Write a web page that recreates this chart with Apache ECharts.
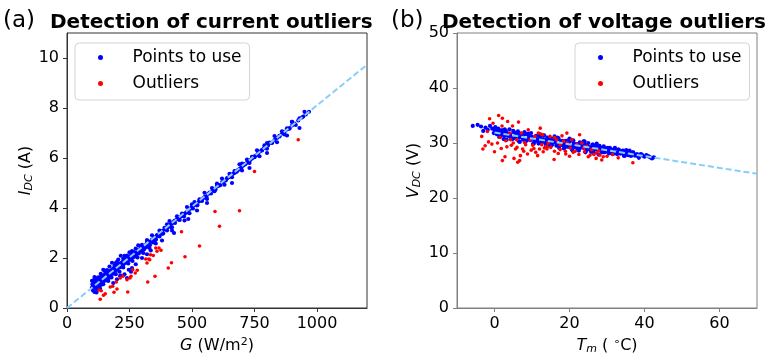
<!DOCTYPE html>
<html><head><meta charset="utf-8">
<script src="https://cdn.jsdelivr.net/npm/echarts@6/dist/echarts.min.js"></script>
<style>html,body{margin:0;padding:0;background:#fff}#c{width:775px;height:360px}</style>
</head><body><div id="c"></div>
<script>
// ---- Panel (a): current outliers ----
const gTicks = [0, 250, 500, 750, 1000];
const iTicks = [0, 2, 4, 6, 8, 10];
const gUse = [100,102,104,105,107,108,110,111,113,115,116,118,120,121,123,125,127,128,130,132,134,136,138,140,142,144,146,148,150,152,154,156,158,160,162,164,166,168,170,172,174,176,178,180,183,185,187,190,192,195,197,200,202,205,207,210,212,215,218,220,223,225,228,230,233,236,238,241,244,247,250,253,256,259,262,265,268,271,274,277,280,284,287,290,294,297,300,304,308,312,316,320,324,328,332,336,340,344,348,352,356,360,365,370,375,380,385,390,395,400,405,410,415,420,426,432,438,444,450,456,462,468,474,480,486,492,498,504,510,516,522,528,534,540,546,552,558,564,570,576,582,588,594,600,607,614,621,628,635,642,649,656,663,670,677,684,691,698,705,712,719,726,733,740,748,756,764,772,780,788,796,804,812,820,830,840,850,860,870,880,890,900,910,925,940,955,968,
185,200,215,230,240,260,275,300,320,335,380,420,470,520,560,660,730,800,880,930,
150,200,260,320,400,500,600,700,800,900,950,247,256,212,485,428,118,132,145,165,178,195,210,225,245,262,282,305,330,355,
300,310,320,330,340,350,360,370,380,390,400,410,420,430,440,450,460,470,480,490,500,510,520,530,540,550,560,570,580,590,600,610,620,630,640,650,660,670,680,690,700,710,720,730,740,750,760,770,780,790,800,810,820,830,840,850,860,870,880,890,900,915,930,945,
100,105,110,115,120,125,130,135,140,145,150,155,160,165,170,175,180,185,190,195,200,205,210,215,220,225,230,235,240,245,250,255,260,265,270,275,280,285,290,295];
const iUse = [0.82,0.95,0.70,1.05,0.88,1.12,0.64,0.93,1.02,0.80,1.15,0.96,1.08,0.74,1.20,0.98,1.10,0.86,1.22,1.04,1.14,0.92,1.28,1.12,1.20,1.00,1.30,1.16,1.24,1.36,1.10,1.28,1.38,1.22,1.32,1.44,1.18,1.40,1.34,1.48,1.28,1.42,1.52,1.36,1.50,1.58,1.40,1.55,1.64,1.48,1.60,1.70,1.56,1.66,1.76,1.62,1.72,1.80,1.66,1.78,1.86,1.72,1.84,1.92,1.80,1.90,1.98,1.86,1.96,2.04,1.92,2.02,2.10,1.98,2.08,2.16,2.04,2.14,2.22,2.10,2.22,2.30,2.18,2.30,2.38,2.26,2.38,2.46,2.34,2.48,2.54,2.44,2.58,2.64,2.52,2.68,2.74,2.62,2.78,2.84,2.74,2.88,2.94,2.86,3.02,3.08,2.98,3.14,3.20,3.10,3.26,3.32,3.24,3.38,3.44,3.40,3.54,3.58,3.52,3.66,3.70,3.66,3.80,3.86,3.82,3.96,4.02,3.98,4.12,4.16,4.12,4.26,4.32,4.28,4.40,4.46,4.44,4.56,4.60,4.58,4.70,4.76,4.74,4.86,4.90,4.92,5.04,5.08,5.10,5.20,5.24,5.28,5.36,5.40,5.44,5.52,5.58,5.62,5.70,5.74,5.80,5.88,5.92,5.98,6.06,6.10,6.18,6.26,6.30,6.40,6.44,6.50,6.60,6.62,6.72,6.80,6.86,6.98,7.04,7.14,7.20,7.30,7.38,7.50,7.62,7.74,7.85,
1.00,1.15,1.30,1.35,1.20,1.60,1.75,2.00,2.15,2.30,2.70,3.10,3.50,3.90,4.20,5.00,5.60,6.20,6.90,7.20,
1.50,1.85,2.28,2.72,3.35,4.15,4.98,5.78,6.60,7.45,7.85,1.53,1.45,1.28,3.56,3.00,0.62,0.78,0.95,1.08,1.22,1.35,1.45,1.62,1.78,1.88,2.02,2.20,2.40,2.58,
2.53,2.39,2.65,2.63,2.91,2.66,2.92,3.10,2.96,3.21,3.19,3.48,3.23,3.49,3.67,3.53,3.78,3.76,4.04,3.79,4.06,4.24,4.10,4.35,4.33,4.61,4.36,4.62,4.80,4.67,4.92,4.90,5.18,4.93,5.19,5.37,5.23,5.48,5.47,5.75,5.50,5.76,5.94,5.80,6.05,6.03,6.31,6.07,6.33,6.51,6.37,6.62,6.60,6.88,6.63,6.89,7.07,6.94,7.19,7.17,7.45,7.32,7.59,7.66,
1.09,0.85,1.24,0.81,1.12,1.23,0.99,1.37,1.14,1.53,1.10,1.41,1.52,1.28,1.66,1.42,1.81,1.38,1.69,1.80,1.56,1.94,1.70,2.09,1.66,1.98,2.09,1.85,2.10,1.94,2.23,1.97,2.16,2.25,2.16,2.38,2.22,2.51,2.25,2.44];
const gOut = [925,750,592,690,610,458,530,472,418,405,352,323,243,368,376,360,334,327,320,345,331,355,315,281,273,263,252,240,256,224,213,197,200,173,183,146,153,133,188,128,137];
const iOut = [6.73,5.46,3.86,3.89,3.27,3.05,2.48,2.05,1.81,1.60,1.27,1.04,0.64,2.40,2.31,2.27,2.13,1.96,1.80,2.10,1.93,2.40,1.96,1.51,1.40,1.53,1.20,1.13,1.27,1.27,1.20,1.04,0.76,0.84,0.87,0.51,0.57,0.35,0.63,0.72,0.69];
const gFit = [0, 1200];
const iFit = [0, 9.73];

// ---- Panel (b): voltage outliers ----
const tTicks = [0, 20, 40, 60];
const vTicks = [0, 10, 20, 30, 40, 50];
const tUse = [-5.8,-4.5,-3.6,-3.0,-2.4,-1.8,-1.2,-0.6,-0.2,0.2,0.5,0.8,
1.0,1.5,2.0,2.5,3.0,3.5,4.0,4.5,5.0,5.5,6.0,6.5,7.0,7.5,8.0,8.5,9.0,9.5,10.0,10.5,11.0,11.5,12.0,12.5,13.0,13.5,14.0,14.5,15.0,15.5,16.0,16.5,17.0,17.5,18.0,18.5,19.0,19.5,20.0,20.5,21.0,21.5,22.0,22.5,23.0,23.5,24.0,24.5,25.0,25.5,26.0,26.5,27.0,27.5,28.0,28.5,29.0,29.5,30.0,30.5,31.0,31.5,32.0,32.5,33.0,33.5,34.0,34.5,35.0,35.5,36.0,36.5,37.0,37.5,38.0,38.5,39.0,39.5,40.5,41.5,42.5,
1.25,1.75,2.25,2.75,3.25,3.75,4.25,4.75,5.25,5.75,6.25,6.75,7.25,7.75,8.25,8.75,9.25,9.75,10.25,10.75,11.25,11.75,12.25,12.75,13.25,13.75,14.25,14.75,15.25,15.75,16.25,16.75,17.25,17.75,18.25,18.75,19.25,19.75,20.25,20.75,21.25,21.75,22.25,22.75,23.25,23.75,24.25,24.75,25.25,25.75,26.25,26.75,27.25,27.75,28.25,28.75,29.25,29.75,30.25,30.75,31.25,31.75,32.25,32.75,33.25,33.75,34.25,34.75,35.25,35.75,36.25,36.75,37.25,38.25,39.25,40.0,41.0,42.0,
0.125,0.625,1.125,1.625,2.125,2.625,3.125,3.625,4.125,4.625,5.125,5.625,6.125,6.625,7.125,7.625,8.125,8.625,9.125,9.625,10.125,10.625,11.125,11.625,12.125,12.625,13.125,13.625,14.125,14.625,15.125,15.625,16.125,16.625,17.125,17.625,18.125,18.625,19.125,19.625,20.125,20.625,21.125,21.625,22.125,22.625,23.125,23.625,24.125,24.625,25.125,25.625,26.125,26.625,27.125,27.625,28.125,28.625,29.125,29.625,30.125,30.625,31.125,31.625,32.125,32.625,33.125,33.625,34.125,34.625,35.125,35.625];
const vUse = [33.1,33.3,33.0,32.2,32.8,32.4,33.1,32.6,31.8,32.9,32.3,31.6,
32.6,31.3,32.0,30.7,32.1,31.4,32.5,30.8,32.2,30.9,31.6,30.3,31.7,31.0,32.0,30.4,31.7,30.5,31.1,29.9,31.2,30.6,31.6,30.0,31.3,30.1,30.7,29.5,30.8,30.1,31.2,29.5,30.9,29.6,30.3,29.0,30.4,29.7,30.8,29.1,30.5,29.2,29.8,28.6,29.9,29.3,30.3,28.7,30.0,28.8,29.4,28.2,29.5,28.9,29.5,28.6,29.2,28.5,28.9,28.1,28.9,28.5,29.0,28.1,28.8,28.1,28.5,27.7,28.5,28.1,28.6,27.7,28.3,27.7,28.0,27.3,28.0,27.7,27.8,27.4,27.4,
31.1,32.3,31.7,32.5,30.6,31.7,31.2,30.7,31.9,31.3,32.1,30.2,31.3,30.8,30.3,31.6,30.9,31.8,29.8,31.0,30.4,29.9,31.2,30.5,31.4,29.4,30.6,30.0,29.6,30.8,30.2,31.0,29.1,30.2,29.6,29.2,30.4,29.8,30.6,28.7,29.8,29.3,28.8,30.1,29.4,30.3,28.3,29.5,28.9,28.4,29.7,29.0,29.9,27.9,29.1,28.5,28.3,29.0,28.7,29.1,28.1,28.6,28.3,28.0,28.6,28.3,28.6,27.7,28.2,27.9,27.7,28.3,27.9,27.6,27.9,27.5,27.6,27.2,
32.3,31.6,31.9,31.2,32.3,31.3,32.0,31.3,31.6,30.9,32.0,31.0,31.6,31.0,31.2,30.6,31.6,30.7,31.3,30.7,30.9,30.3,31.3,30.4,31.0,30.4,30.6,29.9,31.0,30.0,30.7,30.0,30.3,29.6,30.7,29.7,30.4,29.7,30.0,29.3,30.3,29.4,30.0,29.4,29.6,29.0,30.0,29.1,29.7,29.1,29.3,28.7,29.7,28.8,29.4,28.7,29.0,28.3,29.4,28.4,29.1,28.4,28.7,28.0,29.1,28.1,28.8,28.1,28.4,27.7,28.7,27.8];
const tOut = [-1.3,1.1,2.1,3.5,4.8,6.4,2.0,-0.4,-1.9,-3.4,-1.6,-0.7,0.8,-3.1,2.1,3.3,4.3,5.0,5.6,6.9,6.7,7.8,8.3,9.5,10.2,11.5,11.7,12.2,12.6,13.3,13.9,14.3,12.9,15.9,17.5,19.3,18.9,20.2,21.5,22.7,23.8,25.5,27.1,28.1,29.0,28.6,36.9,17.5,18.4,19.4,20.6,22.0,23.3,24.6,25.9,27.3,14.8,16.6,10.8,9.0,7.2,4.1,5.9,
1.5,3.0,4.5,6.0,7.5,8.8,9.8,11.0,12.0,13.0,14.0,15.0,16.0,17.0,19.0,20.0,21.0,22.5,24.0,25.0,26.5,27.8,30.0,31.5,33.0,-2.5,0.0,1.8,2.8,5.2,6.2,8.0,10.5,12.5,16.0,18.0];
const vOut = [34.4,35.0,34.5,33.9,33.1,33.8,33.1,33.6,32.1,31.2,30.2,29.8,30.0,28.9,26.8,29.3,30.6,30.0,28.9,27.7,26.8,28.5,29.7,30.6,29.6,27.7,31.8,32.7,29.7,29.1,29.4,30.0,31.5,27.0,28.8,31.8,28.5,29.1,28.5,31.5,29.1,27.8,27.2,27.8,27.5,26.9,26.4,29.7,30.3,30.0,30.6,29.7,30.0,29.4,28.8,28.2,31.2,30.6,31.2,32.4,31.8,31.8,30.6,
31.0,30.4,29.6,29.2,28.9,28.0,28.7,28.3,28.9,28.4,28.9,29.2,28.5,28.1,28.0,27.6,28.3,27.9,28.4,27.5,27.9,28.6,27.6,27.9,27.3,29.5,28.4,29.0,27.5,27.2,26.5,30.1,29.0,31.6,31.0,31.3];
const tFit = [0, 70];
const vFit = [31.9, 24.4];

const zip = (a, b) => a.map((v, i) => [v, b[i]]);
const FONT = 'DejaVu Sans';
const BLUE = '#0000ff', RED = '#ff0000', FIT = '#87cefa';

function axisCommon(col) {
  return {
    axisLine: { show: true, onZero: false, lineStyle: { color: col, width: 1 } },
    splitLine: { show: false },
    nameLocation: 'middle',
  };
}
const plain = (v) => String(v);
const tickLabel = { color: '#000', fontFamily: FONT, fontSize: 16, formatter: plain };
const nameStyle = (rich) => ({ color: '#000', fontFamily: FONT, fontSize: 16, rich });
const rich = {
  i: { fontFamily: FONT, fontSize: 16, fontStyle: 'italic', color: '#000' },
  s: { fontFamily: FONT, fontSize: 11, fontStyle: 'italic', color: '#000', padding: [7, 0, 0, 0] },
  n: { fontFamily: FONT, fontSize: 16, color: '#000' },
  sup: { fontFamily: FONT, fontSize: 11, color: '#000', padding: [0, 0, 7, 0] }
};

function legend(left) {
  return {
    left: left, top: 43, orient: 'vertical',
    data: ['Points to use', 'Outliers'],
    itemWidth: 34, itemHeight: 5, itemGap: 9,
    padding: [6, 8, 8, 23],
    backgroundColor: '#fff', borderColor: '#d4d4d4', borderWidth: 1, borderRadius: 4,
    textStyle: { fontFamily: FONT, fontSize: 17, color: '#000', padding: [0, 0, 0, 10] },
    selectedMode: false
  };
}

const chart = echarts.init(document.getElementById('c'), null, { renderer: 'canvas' });
chart.setOption({
  animation: false,
  backgroundColor: '#fff',
  title: [
    { text: '(a)', left: -2, top: 5, textStyle: { fontFamily: FONT, fontWeight: 'normal', fontSize: 23, color: '#000' } },
    { text: 'Detection of current outliers', left: 45, top: 8, textStyle: { fontFamily: FONT, fontWeight: 'bold', fontSize: 20, color: '#000' } },
    { text: '(b)', left: 386, top: 5, textStyle: { fontFamily: FONT, fontWeight: 'normal', fontSize: 23, color: '#000' } },
    { text: 'Detection of voltage outliers', left: 437, top: 8, textStyle: { fontFamily: FONT, fontWeight: 'bold', fontSize: 20, color: '#000' } }
  ],
  legend: [legend(75), legend(575)],
  grid: [
    { left: 67, right: 408, top: 33, bottom: 52, show: true, borderColor: '#333', borderWidth: 1, backgroundColor: 'transparent' },
    { left: 457, right: 18, top: 33, bottom: 52, show: true, borderColor: '#808080', borderWidth: 1, backgroundColor: 'transparent' }
  ],
  xAxis: [
    Object.assign(axisCommon('#333'), {
      type: 'value', gridIndex: 0, min: 0, max: 1200,
      axisTick: { show: true, length: 4, lineStyle: { color: '#333' }, customValues: gTicks },
      axisLabel: Object.assign({ margin: 8, customValues: gTicks }, tickLabel),
      name: '{i|G} {n|(W/m}{sup|2}{n|)}', nameGap: 29, nameTextStyle: nameStyle(rich)
    }),
    Object.assign(axisCommon('#808080'), {
      type: 'value', gridIndex: 1, min: -10, max: 70,
      axisTick: { show: true, length: 4, lineStyle: { color: '#808080' }, customValues: tTicks },
      axisLabel: Object.assign({ margin: 8, customValues: tTicks }, tickLabel),
      name: '{i|T}{s|m} {n|( }{sup|∘}{n|C)}', nameGap: 29, nameTextStyle: nameStyle(rich)
    })
  ],
  yAxis: [
    Object.assign(axisCommon('#333'), {
      type: 'value', gridIndex: 0, min: 0, max: 11,
      axisTick: { show: true, length: 4, lineStyle: { color: '#333' }, customValues: iTicks },
      axisLabel: Object.assign({ margin: 8, customValues: iTicks }, tickLabel),
      name: '{i|I}{s|DC}{n| (A)}', nameGap: 31, nameTextStyle: nameStyle(rich)
    }),
    Object.assign(axisCommon('#808080'), {
      type: 'value', gridIndex: 1, min: 0, max: 50,
      axisTick: { show: true, length: 4, lineStyle: { color: '#808080' }, customValues: vTicks },
      axisLabel: Object.assign({ margin: 8, customValues: vTicks }, tickLabel),
      name: '{i|V}{s|DC}{n| (V)}', nameGap: 34, nameTextStyle: nameStyle(rich)
    })
  ],
  series: [
    { name: 'Points to use', type: 'scatter', xAxisIndex: 0, yAxisIndex: 0, data: zip(gUse, iUse), symbolSize: 4.2, itemStyle: { color: BLUE, opacity: 1 }, z: 2 },
    { name: 'Outliers', type: 'scatter', xAxisIndex: 0, yAxisIndex: 0, data: zip(gOut, iOut), symbolSize: 3.6, itemStyle: { color: RED, opacity: 1 }, z: 2 },
    { name: 'fitA', type: 'line', xAxisIndex: 0, yAxisIndex: 0, data: zip(gFit, iFit), symbol: 'none', lineStyle: { color: FIT, width: 2, type: [6, 3] }, z: 3 },
    { name: 'Points to use', type: 'scatter', xAxisIndex: 1, yAxisIndex: 1, data: zip(tUse, vUse), symbolSize: 4.2, itemStyle: { color: BLUE, opacity: 1 }, z: 2 },
    { name: 'Outliers', type: 'scatter', xAxisIndex: 1, yAxisIndex: 1, data: zip(tOut, vOut), symbolSize: 3.6, itemStyle: { color: RED, opacity: 1 }, z: 2 },
    { name: 'fitB', type: 'line', xAxisIndex: 1, yAxisIndex: 1, data: zip(tFit, vFit), symbol: 'none', lineStyle: { color: FIT, width: 2, type: [6, 3] }, z: 3 }
  ]
});
</script></body></html>
